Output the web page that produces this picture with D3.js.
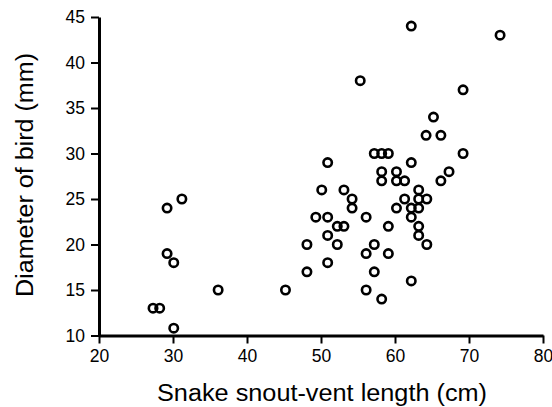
<!DOCTYPE html>
<html>
<head>
<meta charset="utf-8">
<script src="https://cdn.jsdelivr.net/npm/d3@7"></script>
<style>
  html, body { margin: 0; padding: 0; background: #fff; }
  svg { display: block; }
  text { font-family: "Liberation Sans", Arial, Helvetica, sans-serif; fill: #000; }
</style>
</head>
<body>
<svg id="chart" width="552" height="407"></svg>
<script>
// Data: snake snout-vent length (cm) vs diameter of bird (mm)
const snakeLength = [
  27.3, 28.2, 29.2, 31.2, 29.2, 30.1, 30.1, 36.1, 45.2, 48.1,
  48.1, 49.3, 50.1, 50.9, 50.9, 50.9, 50.9, 58.2, 60.2, 58.2,
  60.2, 61.3, 62.2, 67.3, 66.2, 53.1, 54.2, 54.2, 52.2, 53.1,
  52.2, 56.1, 59.1, 60.2, 61.3, 62.2, 63.2, 63.2, 64.3, 63.2,
  62.2, 63.2, 63.2, 64.3, 57.2, 56.1, 59.1, 57.2, 56.1, 58.2,
  62.2, 62.2, 74.2, 55.3, 69.2, 65.2, 64.2, 66.2, 57.2, 58.2,
  59.1, 69.2
];
const birdDiameter = [
  13, 13, 24, 25, 19, 18, 10.8, 15, 15, 17,
  20, 23, 26, 29, 23, 21, 18, 28, 28, 27,
  27, 27, 29, 28, 27, 26, 25, 24, 22, 22,
  20, 23, 22, 24, 25, 24, 26, 25, 25, 24,
  23, 22, 21, 20, 20, 19, 19, 17, 15, 14,
  16, 44, 43, 38, 37, 34, 32, 32, 30, 30,
  30, 30
];
const xTicks = [20, 30, 40, 50, 60, 70, 80];
const yTicks = [10, 15, 20, 25, 30, 35, 40, 45];
const xTitle = "Snake snout-vent length (cm)";
const yTitle = "Diameter of bird (mm)";

const points = snakeLength.map((x, i) => ({ x, y: birdDiameter[i] }));

const svg = d3.select("#chart");
const x = d3.scaleLinear().domain([20, 80]).range([99, 543]);
const y = d3.scaleLinear().domain([10, 45]).range([335.5, 17]);

// axes
const gx = svg.append("g")
  .attr("transform", `translate(0,${y(10)})`)
  .call(d3.axisBottom(x).tickValues(xTicks).tickSize(8).tickSizeOuter(0).tickPadding(6).tickFormat(d3.format("d")));
const gy = svg.append("g")
  .attr("transform", `translate(${x(20)},0)`)
  .call(d3.axisLeft(y).tickValues(yTicks).tickSize(8).tickSizeOuter(0).tickPadding(6).tickFormat(d3.format("d")));

[gx, gy].forEach(g => {
  g.select(".domain").attr("stroke", "#000").attr("stroke-width", 3);
  g.selectAll(".tick line").attr("stroke", "#000").attr("stroke-width", 2);
  g.selectAll(".tick text").attr("font-size", 17.5).attr("fill", "#000")
    .style("font-family", '"Liberation Sans", Arial, sans-serif');
});
gx.selectAll(".tick text").attr("dy", "0.72em");

// points
svg.append("g").selectAll("circle")
  .data(points)
  .join("circle")
  .attr("cx", d => x(d.x))
  .attr("cy", d => y(d.y))
  .attr("r", 4.2)
  .attr("fill", "none")
  .attr("stroke", "#000")
  .attr("stroke-width", 2.6);

// titles
svg.append("text")
  .attr("x", 322).attr("y", 401)
  .attr("text-anchor", "middle")
  .attr("font-size", 23.5)
  .attr("textLength", 330)
  .attr("lengthAdjust", "spacingAndGlyphs")
  .text(xTitle);

svg.append("text")
  .attr("transform", "translate(33,175) rotate(-90)")
  .attr("text-anchor", "middle")
  .attr("font-size", 23.5)
  .attr("textLength", 244)
  .attr("lengthAdjust", "spacingAndGlyphs")
  .text(yTitle);
</script>
</body>
</html>
